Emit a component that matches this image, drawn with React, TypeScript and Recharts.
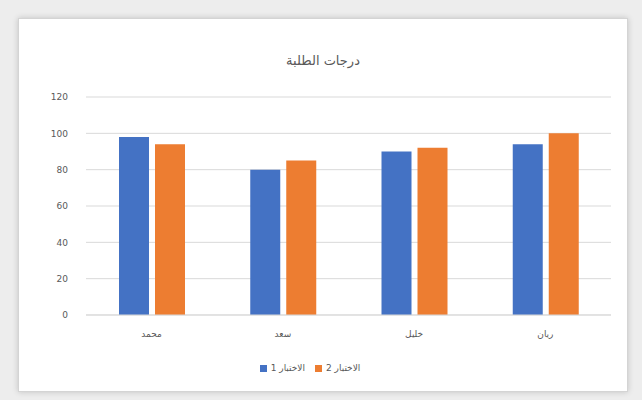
import { Bar, BarChart, CartesianGrid, Legend, XAxis, YAxis } from "recharts";

const students = ["محمد", "سعد", "خليل", "ريان"];
const test1 = [98, 80, 90, 94];
const test2 = [94, 85, 92, 100];
const yTicks = [0, 20, 40, 60, 80, 100, 120];

const data = students.map((name, i) => ({ name, t1: test1[i], t2: test2[i] }));

const font = "'DejaVu Sans', 'Liberation Sans', sans-serif";

export default function App() {
  return (
    <div
      style={{
        position: "fixed",
        left: 0,
        top: 0,
        width: 642,
        height: 400,
        background: "#ededed",
        fontFamily: font
      }}
    >
      <div
        style={{
          position: "absolute",
          left: 18,
          top: 18,
          width: 608,
          height: 372,
          background: "#ffffff",
          border: "1px solid #d4d4d4",
          boxShadow: "0 0 6px rgba(0,0,0,0.18)"
        }}
      >
        <div
          style={{
            position: "absolute",
            top: 34,
            width: "100%",
            textAlign: "center",
            fontSize: 13,
            color: "#595959"
          }}
        >
          درجات الطلبة
        </div>
        <BarChart
          width={608}
          height={372}
          data={data}
          margin={{ top: 78, right: 16, left: 0, bottom: 36 }}
          barSize={30}
          barGap={6}
        >
          <CartesianGrid vertical={false} stroke="#d9d9d9" />
          <XAxis
            dataKey="name"
            tickLine={false}
            axisLine={{ stroke: "#d9d9d9" }}
            tick={{ fontSize: 9, fill: "#595959" }}
            tickMargin={10}
            height={30}
          />
          <YAxis
            width={67}
            domain={[0, 120]}
            ticks={yTicks}
            axisLine={false}
            tickLine={false}
            tick={{ fontSize: 9, fill: "#595959" }}
            tickMargin={12}
          />
          <Legend
            verticalAlign="bottom"
            iconType="square"
            iconSize={7}
            formatter={(value) => <span style={{ color: "#595959" }}>{value}</span>}
            wrapperStyle={{ fontSize: 9, bottom: 18 }}
          />
          <Bar dataKey="t1" name="الاختبار 1" fill="#4472c4" isAnimationActive={false} />
          <Bar dataKey="t2" name="الاختبار 2" fill="#ed7d31" isAnimationActive={false} />
        </BarChart>
      </div>
    </div>
  );
}
